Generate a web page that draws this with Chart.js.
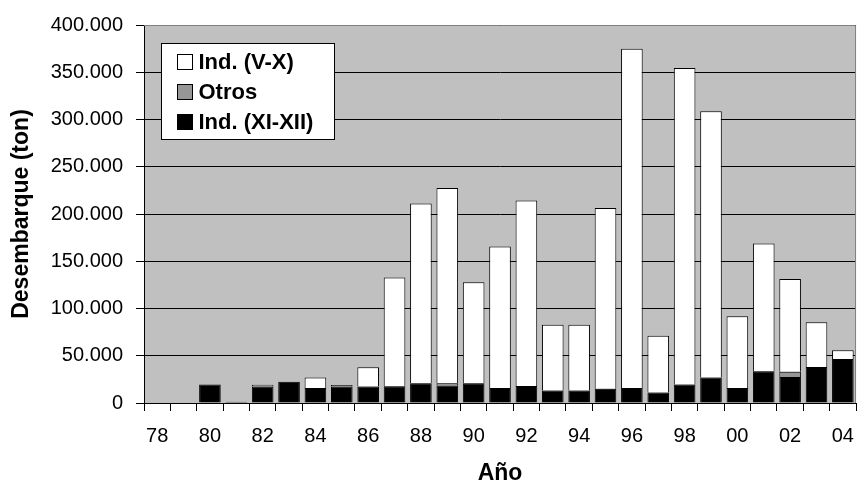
<!DOCTYPE html>
<html>
<head>
<meta charset="utf-8">
<title>Desembarque</title>
<script src="https://cdn.jsdelivr.net/npm/chart.js@4.4.1/dist/chart.umd.min.js"></script>
<style>
  html, body { margin: 0; padding: 0; background: #ffffff; }
  canvas { display: block; }
</style>
</head>
<body>
<canvas id="chart" width="867" height="488"></canvas>
<script>
// ---------- DATA (toneladas) ----------
const years = ["78", "79", "80", "81", "82", "83", "84", "85", "86", "87", "88", "89", "90",
  "91", "92", "93", "94", "95", "96", "97", "98", "99", "00", "01", "02", "03", "04"];

const indXIXII = [0, 0, 19500, 1200, 17500, 22500, 16000, 17400, 17400, 17700, 20800, 18400, 21000,
  16000, 18000, 13200, 13200, 15000, 16000, 11100, 19500, 27100, 16000, 33700, 27500, 38200, 46500];

const otros = [0, 0, 0, 0, 1800, 0, 0, 1700, 0, 0, 0, 2400, 0,
  0, 0, 0, 0, 0, 0, 0, 0, 0, 0, 0, 5500, 0, 0];

const indVX = [0, 0, 0, 0, 0, 0, 11100, 0, 20500, 115000, 190300, 206700, 106800,
  149600, 196300, 69500, 69500, 191300, 359000, 60100, 335100, 281600, 75700, 135100, 98300, 47200, 9200];

const yTicks = [0, 50000, 100000, 150000, 200000, 250000, 300000, 350000, 400000];

// ---------- HELPERS ----------
function miles(v) {
  return String(v).replace(/\B(?=(\d{3})+(?!\d))/g, ".");
}

const FONT = "'Liberation Sans', Arial, sans-serif";
Chart.defaults.font.family = FONT;
Chart.defaults.color = "#000000";

// gray plot background + frame
const plotBack = {
  id: "plotBack",
  beforeDraw(chart) {
    const { ctx, chartArea: a } = chart;
    ctx.save();
    ctx.fillStyle = "#c0c0c0";
    ctx.fillRect(a.left, a.top, a.right - a.left, a.bottom - a.top);
    ctx.restore();
  },
  afterDatasetsDraw(chart) {
    const { ctx, chartArea: a } = chart;
    ctx.save();
    ctx.strokeStyle = "#808080";
    ctx.lineWidth = 1;
    ctx.beginPath();
    ctx.moveTo(a.left, a.top + 0.5);
    ctx.lineTo(a.right - 0.5, a.top + 0.5);
    ctx.lineTo(a.right - 0.5, a.bottom);
    ctx.stroke();
    ctx.restore();
  }
};

// boxed legend inside the plot, top-left
const boxLegend = {
  id: "boxLegend",
  afterDraw(chart) {
    const { ctx, chartArea: a } = chart;
    const x = Math.round(a.left + 17) + 0.5;
    const y = Math.round(a.top + 18) + 0.5;
    const w = 173, h = 96;
    ctx.save();
    ctx.fillStyle = "#ffffff";
    ctx.fillRect(x, y, w, h);
    ctx.strokeStyle = "#000000";
    ctx.lineWidth = 1;
    ctx.strokeRect(x, y, w, h);

    const sets = chart.data.datasets.slice().reverse();
    ctx.font = "bold 22px " + FONT;
    ctx.textBaseline = "middle";
    ctx.textAlign = "left";
    sets.forEach((ds, i) => {
      const cy = y + 18 + i * 30;
      ctx.fillStyle = ds.backgroundColor;
      ctx.fillRect(x + 16, cy - 7, 15, 15);
      ctx.strokeStyle = "#000000";
      ctx.strokeRect(x + 16, cy - 7, 15, 15);
      ctx.fillStyle = "#000000";
      ctx.fillText(ds.label, x + 37, cy + 1);
    });
    ctx.restore();
  }
};

// ---------- CHART ----------
const barStyle = {
  borderColor: "#000000",
  borderWidth: 1,
  categoryPercentage: 1,
  barPercentage: 0.82
};

new Chart(document.getElementById("chart"), {
  type: "bar",
  data: {
    labels: years,
    datasets: [
      Object.assign({ label: "Ind. (XI-XII)", data: indXIXII, backgroundColor: "#000000" }, barStyle),
      Object.assign({ label: "Otros", data: otros, backgroundColor: "#969696" }, barStyle),
      Object.assign({ label: "Ind. (V-X)", data: indVX, backgroundColor: "#ffffff" }, barStyle)
    ]
  },
  options: {
    responsive: false,
    animation: false,
    devicePixelRatio: 1,
    layout: { padding: { top: 19, right: 1, left: 0, bottom: 0 } },
    plugins: {
      legend: { display: false },
      tooltip: { enabled: false }
    },
    scales: {
      x: {
        stacked: true,
        offset: true,
        grid: {
          offset: true,
          drawOnChartArea: false,
          drawTicks: true,
          tickLength: 8,
          color: "#000000",
          lineWidth: 1
        },
        border: { display: true, color: "#000000", width: 1 },
        ticks: {
          autoSkip: false,
          maxRotation: 0,
          padding: 13,
          font: { size: 20 },
          color: "#000000",
          callback: function (value, index) {
            return index % 2 === 0 ? this.getLabelForValue(value) : "";
          }
        },
        title: {
          display: true,
          text: "Año",
          font: { size: 23, weight: "bold" },
          color: "#000000",
          padding: { top: 0, bottom: 1 }
        },
        afterFit(scale) { scale.height = 85; }
      },
      y: {
        stacked: true,
        min: yTicks[0],
        max: yTicks[yTicks.length - 1],
        grid: {
          color: "#000000",
          lineWidth: 1,
          drawTicks: true,
          tickLength: 8
        },
        border: { display: true, color: "#000000", width: 1 },
        afterBuildTicks(scale) {
          scale.ticks = yTicks.map(v => ({ value: v }));
        },
        ticks: {
          padding: 13,
          font: { size: 20 },
          color: "#000000",
          callback: v => miles(v)
        },
        title: {
          display: true,
          text: "Desembarque (ton)",
          font: { size: 23, weight: "bold" },
          color: "#000000",
          padding: { top: 8, bottom: 0 }
        },
        afterFit(scale) { scale.width = 144; }
      }
    }
  },
  plugins: [plotBack, boxLegend]
});
</script>
</body>
</html>
